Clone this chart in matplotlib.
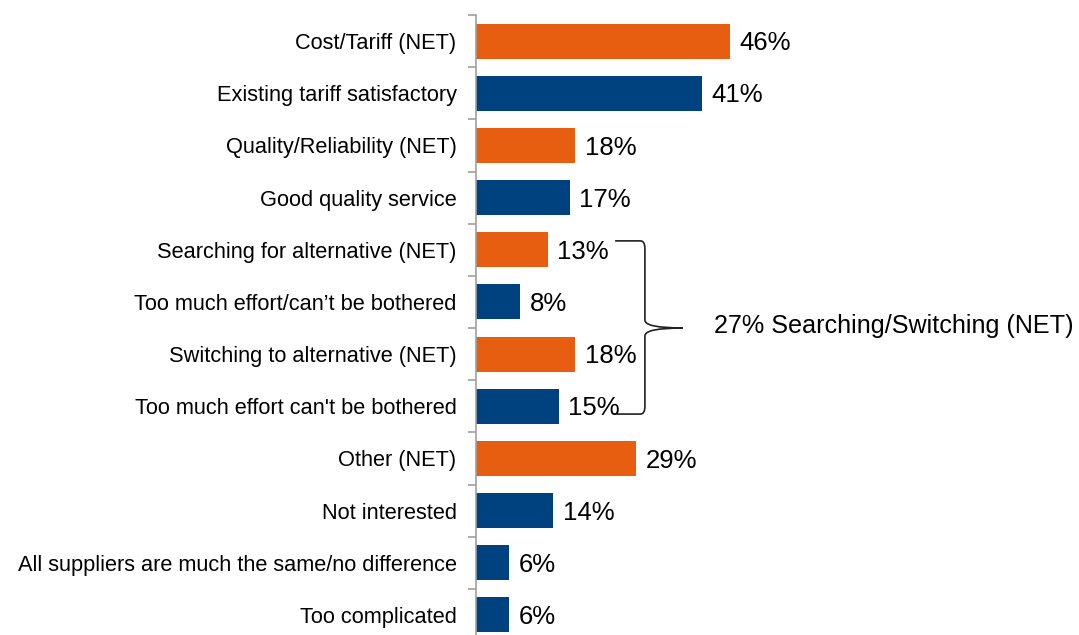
import matplotlib.pyplot as plt
from matplotlib.path import Path
from matplotlib.patches import PathPatch

plt.rcParams['font.family'] = ['Liberation Sans', 'DejaVu Sans']

categories = [
    "Cost/Tariff (NET)",
    "Existing tariff satisfactory",
    "Quality/Reliability (NET)",
    "Good quality service",
    "Searching for alternative (NET)",
    "Too much effort/can\u2019t be bothered",
    "Switching to alternative (NET)",
    "Too much effort can't be bothered",
    "Other (NET)",
    "Not interested",
    "All suppliers are much the same/no difference",
    "Too complicated",
]
values = [46, 41, 18, 17, 13, 8, 18, 15, 29, 14, 6, 6]
is_net = [True, False, True, False, True, False, True, False, True, False, False, False]
bracket_label = "27% Searching/Switching (NET)"

orange = '#E85E10'
blue = '#00427F'
colors = [orange if n else blue for n in is_net]

fig = plt.figure(figsize=(10.79, 6.35), dpi=100)
# axes runs a little past the bottom edge, as in the source image
ax = fig.add_axes([476 / 1079, -6 / 635, 603 / 1079, 626 / 635])

y = list(range(len(categories)))
ax.barh(y, values, height=0.67, color=colors)

for yi, v in zip(y, values):
    ax.text(v + 1.7, yi + 0.04, f"{v}%", va='center', ha='left', fontsize=18.5)

ax.set_xlim(0, 603 / 5.52)
ax.set_ylim(len(categories) - 0.5, -0.5)
ax.set_yticks(y)
ax.set_yticklabels(categories, fontsize=15.7)
ax.tick_params(axis='y', which='major', length=0, pad=14)
ax.set_yticks([i - 0.5 for i in range(len(categories) + 1)], minor=True)
ax.tick_params(axis='y', which='minor', length=6, color='#A0A0A0', width=1.2)
ax.set_xticks([])
for s in ['top', 'right', 'bottom']:
    ax.spines[s].set_visible(False)
ax.spines['left'].set_color('#A0A0A0')
ax.spines['left'].set_linewidth(1.2)

# curly bracket around the searching / switching group
xl, xv, xt = 25.2, 30.6, 37.5
yt, ym, yb = 3.83, 5.50, 7.15
verts = [
    (xl, yt), (xv - 0.8, yt),
    (xv, yt), (xv, yt + 0.15),
    (xv, ym - 0.15),
    (xv, ym), (xt, ym),
    (xv, ym), (xv, ym + 0.15),
    (xv, yb - 0.15),
    (xv, yb), (xv - 0.8, yb),
    (xl + 0.3, yb),
]
codes = [Path.MOVETO, Path.LINETO,
         Path.CURVE3, Path.CURVE3,
         Path.LINETO,
         Path.CURVE3, Path.CURVE3,
         Path.CURVE3, Path.CURVE3,
         Path.LINETO,
         Path.CURVE3, Path.CURVE3,
         Path.LINETO]
ax.add_patch(PathPatch(Path(verts, codes), fill=False, lw=1.2, edgecolor='#222222', clip_on=False))
ax.text(43.1, ym - 0.03, bracket_label, va='center', ha='left', fontsize=18.1)

fig.savefig('out.png', dpi=100)
